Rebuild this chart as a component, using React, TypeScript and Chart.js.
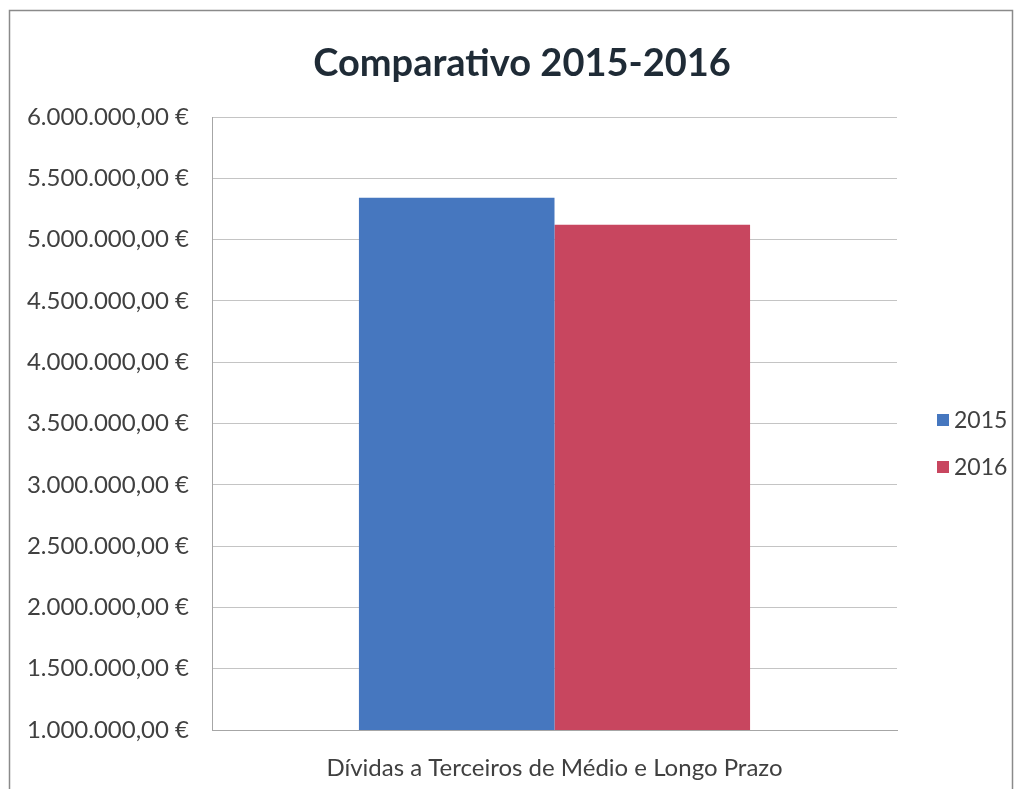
import React, { useEffect, useRef } from "react";
import { Chart, registerables } from "chart.js";

Chart.register(...registerables);

const categories = ["Dívidas a Terceiros de Médio e Longo Prazo"];
const seriesLabels = ["2015", "2016"];
const values2015 = [5341000];
const values2016 = [5122000];
const yMin = 1000000;
const yMax = 6000000;
const yStep = 500000;
const titleText = "Comparativo 2015-2016";
const colors = ["#4677bf", "#c8465f"];

function formatEuro(v: number): string {
  const fixed = v.toFixed(2);
  const [intPart, dec] = fixed.split(".");
  const withDots = intPart.replace(/\B(?=(\d{3})+(?!\d))/g, ".");
  return withDots + "," + dec + " €";
}

const FONT = "Lato, 'Open Sans', sans-serif";

const decorPlugin = {
  id: "decor",
  afterDraw(chart: any) {
    const ctx = chart.ctx as CanvasRenderingContext2D;
    ctx.save();
    // outer frame
    ctx.strokeStyle = "#8a8a8a";
    ctx.lineWidth = 1.5;
    ctx.strokeRect(9.5, 10.5, 1003, 800);
    // title
    ctx.fillStyle = "#1f2b36";
    ctx.font = "bold 38px " + FONT;
    ctx.textAlign = "center";
    ctx.textBaseline = "alphabetic";
    ctx.fillText(titleText, 522, 76);
    // legend
    ctx.font = "23px " + FONT;
    ctx.textAlign = "left";
    ctx.textBaseline = "middle";
    const ys = [420, 467];
    seriesLabels.forEach((lab, i) => {
      ctx.fillStyle = colors[i];
      ctx.fillRect(937, ys[i] - 6, 12, 12);
      ctx.fillStyle = "#404040";
      ctx.fillText(lab, 954, ys[i] + 1);
    });
    ctx.restore();
  },
};

export default function App() {
  const ref = useRef<HTMLCanvasElement | null>(null);
  useEffect(() => {
    if (!ref.current) return;
    const chart = new Chart(ref.current, {
      type: "bar",
      data: {
        labels: categories,
        datasets: [
          { label: seriesLabels[0], data: values2015, backgroundColor: colors[0], borderWidth: 0 },
          { label: seriesLabels[1], data: values2016, backgroundColor: colors[1], borderWidth: 0 },
        ],
      },
      options: {
        responsive: false,
        animation: false,
        devicePixelRatio: 1,
        layout: { padding: { top: 117, right: 122, left: 0, bottom: 0 } },
        plugins: {
          legend: { display: false },
          title: { display: false },
          tooltip: { enabled: false },
        },
        datasets: {
          bar: { categoryPercentage: 0.571, barPercentage: 1 },
        },
        scales: {
          x: {
            grid: { display: false },
            border: { display: true, color: "#a6a6a6", width: 1 },
            ticks: {
              color: "#404040",
              font: { family: FONT, size: 24 },
              padding: 16,
            },
            afterFit: (scale: any) => {
              scale.height = 59;
            },
          },
          y: {
            min: yMin,
            max: yMax,
            grid: { color: "#c4c4c4", lineWidth: 1, drawTicks: false },
            border: { display: true, color: "#a6a6a6", width: 1 },
            ticks: {
              stepSize: yStep,
              color: "#404040",
              font: { family: FONT, size: 24 },
              padding: 23,
              callback: (v: any) => formatEuro(Number(v)),
            },
            afterFit: (scale: any) => {
              scale.width = 212;
            },
          },
        },
      },
      plugins: [decorPlugin],
    });
    return () => chart.destroy();
  }, []);
  return (
    <div style={{ position: "absolute", left: 0, top: 0, width: 1019, height: 789, background: "#fff" }}>
      <canvas ref={ref} width={1019} height={789} style={{ display: "block" }} />
    </div>
  );
}
